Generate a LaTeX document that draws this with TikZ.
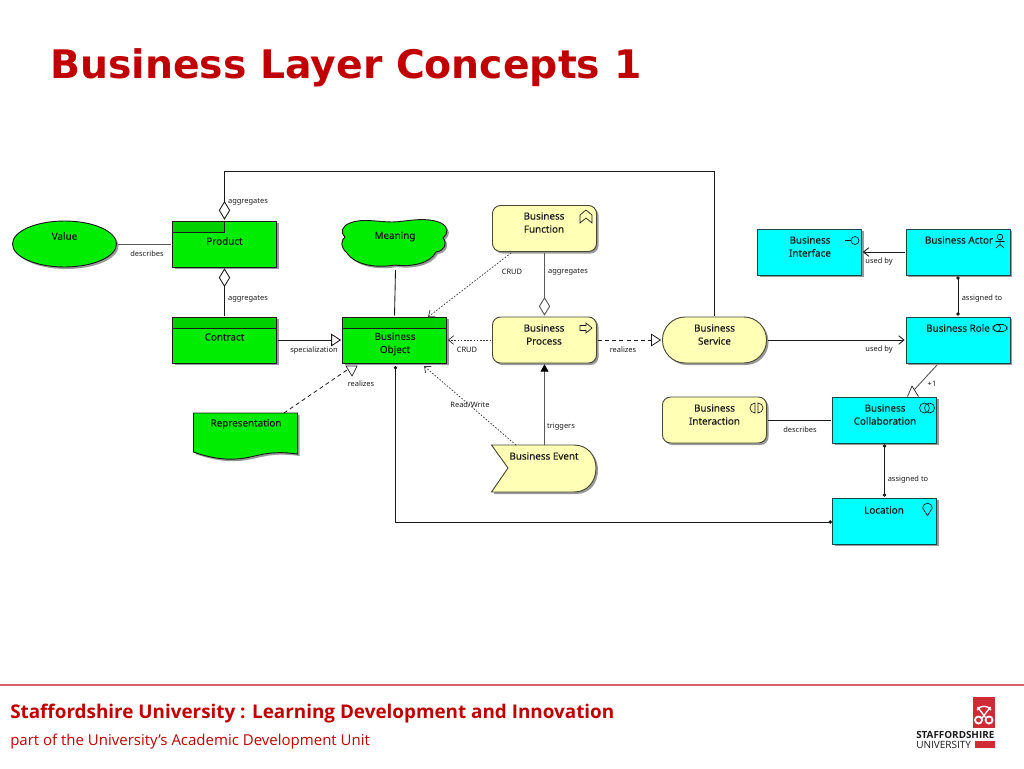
\documentclass[tikz,border=0pt]{standalone}
\usepackage{fontspec}
\setmainfont{Noto Sans}
\newfontfamily\titlefont{DejaVu Sans}
\newfontfamily\footfont{Open Sans}
\newfontfamily\boxfont[FakeBold=0.25]{Noto Sans}
\usepackage{xcolor}
\usetikzlibrary{arrows.meta,calc,positioning,shadows,shapes.geometric}
\definecolor{ink}{HTML}{1A1A1A}
\definecolor{passive}{HTML}{00EC00}
\definecolor{passivehead}{HTML}{00D000}
\definecolor{active}{HTML}{00FFFF}
\definecolor{behaviour}{HTML}{FFFFB5}
\definecolor{titlered}{HTML}{C00000}
\definecolor{rulered}{HTML}{D9606A}
\definecolor{logored}{HTML}{CE2B37}
\tikzset{
  boxshadow/.style={drop shadow={shadow xshift=1.5pt,shadow yshift=-1.5pt,fill=black,opacity=.4}},
  bizbox/.style={draw=ink,line width=.7pt,minimum width=78pt,minimum height=34.5pt,inner sep=0pt,outer sep=1pt,boxshadow},
  objbox/.style={bizbox,fill=passive},
  actbox/.style={bizbox,fill=active,draw=ink!80!active},
  behbox/.style={bizbox,fill=behaviour,draw=ink!80!behaviour,rounded corners=6pt},
  boxtext/.style={font=\boxfont\fontsize{7.4}{9.8}\selectfont,text=ink,align=center,inner sep=0pt},
  linktext/.style={font=\fontsize{5.6}{7}\selectfont,text=ink,inner sep=0pt},
  rel/.style={draw=ink,line width=.65pt},
  relgrey/.style={draw=ink!72,line width=.7pt},
  reldash/.style={draw=ink,line width=.6pt,dash pattern=on 3pt off 2.4pt},
  reldot/.style={draw=ink!85,line width=.55pt,dash pattern=on 1.2pt off 1.2pt},
  aggtip/.style={-{Diamond[open,fill=white,length=14pt,width=8.5pt]}},
  spectip/.style={-{Triangle[open,fill=white,length=7.5pt,width=9.5pt]}},
  opentip/.style={-{Straight Barb[length=4pt,width=6.5pt]}},
  dots/.style={{Circle[length=2.6pt]}-{Circle[length=2.6pt]}},
  icon/.style={draw=ink,line width=.5pt,fill=none},
}
\begin{document}
\begin{tikzpicture}[x=0.75pt,y=-0.75pt]
\useasboundingbox (0,0) rectangle (1024,768);
% heading
\node[anchor=west,inner sep=0pt,text=titlered,font=\titlefont\bfseries\fontsize{29.5}{36}\selectfont] (title) at (50,68) {Business Layer Concepts 1};
% passive structure, green
\node[bizbox,ellipse,fill=passive,minimum width=78pt] (value) at (64.5,244) {};
\node[boxtext] (valuetext) at (64.5,236) {Value};
\node[objbox] (product) at (224.5,244) {};
\fill[passivehead,draw=ink,line width=.6pt] (172.5,221) rectangle (224.5,232);
\node[boxtext] (producttext) at (224.5,241) {Product};
\node[objbox] (contract) at (224.5,340) {};
\fill[passivehead,draw=ink,line width=.6pt] (172.5,317) rectangle (276.5,328);
\node[boxtext] (contracttext) at (224.5,337) {Contract};
\node[objbox] (object) at (394.5,340) {};
\fill[passivehead,draw=ink,line width=.6pt] (342.5,317) rectangle (446.5,328);
\node[boxtext] (objecttext) at (395,344) {Business\\Object};
% the cloud and the document
\draw[fill=passive,draw=ink,line width=.7pt,boxshadow] (350,223) .. controls (362,218) and (378,222) .. (392,222) .. controls (405,222) and (425,216) .. (441,223) .. controls (449,227) and (448,234) .. (443,238) .. controls (448,244) and (444,251) .. (436,252) .. controls (430,264) and (410,267) .. (395,265) .. controls (378,268) and (356,266) .. (347,253) .. controls (340,247) and (341,240) .. (345,237) .. controls (340,232) and (342,226) .. (350,223) -- cycle;
\node[boxtext] (meaning) at (395,236.5) {Meaning};
\coordinate (meaningout) at (395.5,270);
\draw[fill=passive,draw=ink,line width=.7pt,boxshadow] (193.5,413) -- (297.5,413) -- (297.5,454) .. controls (270,450) and (258,456) .. (245,458) .. controls (228,461) and (210,458) .. (193.5,452) -- cycle;
\node[boxtext] (representation) at (246,424) {Representation};
\coordinate (reprout) at (284,413);
% behaviour, yellow
\node[behbox] (function) at (544.5,228.5) {};
\node[boxtext] (functiontext) at (544,222.5) {Business\\Function};
\node[behbox] (process) at (544.5,340) {};
\node[boxtext] (processtext) at (544,334.5) {Business\\Process};
\node[bizbox,fill=behaviour,draw=ink!80!behaviour,rounded corners=17pt] (service) at (714.5,340) {};
\node[boxtext] (servicetext) at (714.5,334.5) {Business\\Service};
\node[behbox] (interaction) at (714.5,420) {};
\node[boxtext] (interactiontext) at (714.5,414.5) {Business\\Interaction};
\draw[fill=behaviour,draw=ink!80!behaviour,line width=.7pt,boxshadow] (491.5,445) -- (574,445) .. controls (588,445) and (596,456) .. (596,468) .. controls (596,481) and (588,492) .. (574,492) -- (491.5,492) -- (508,468) -- cycle;
\node[boxtext] (event) at (544,456) {Business Event};
\coordinate (eventtop) at (544.5,445);
\coordinate (eventout) at (516,445);
% active structure, cyan
\node[actbox] (interface) at (809.5,252) {};
\node[boxtext] (interfacetext) at (810,246.5) {Business\\Interface};
\node[actbox] (actor) at (958,252) {};
\node[boxtext] (actortext) at (959,240) {Business Actor};
\node[actbox] (role) at (958,340) {};
\node[boxtext] (roletext) at (958,328) {Business Role};
\node[actbox] (collab) at (884.5,420) {};
\node[boxtext] (collabtext) at (885,414.5) {Business\\Collaboration};
\node[actbox] (location) at (884.5,521) {};
\node[boxtext] (locationtext) at (884,510) {Location};
% small icons
\draw[icon] (580,223) -- (580,215) -- (586,210) -- (592,215) -- (592,223) -- (586,218) -- cycle;
\draw[icon] (580,325.5) -- (586,325.5) -- (586,323) -- (592,328) -- (586,333) -- (586,330.5) -- (580,330.5) -- cycle;
\draw[icon] (845,240.5) -- (851,240.5) (855,240.5) circle[radius=4];
\draw[icon] (1000,237) circle[radius=2.8] (1000,240) -- (1000,244.5) (995.5,241.5) -- (1004.5,241.5) (996,248) -- (1000,244.5) -- (1004,248);
\draw[icon,rounded corners=3pt] (993,324.5) rectangle (1007,331.5);
\draw[icon] (997,328) circle[radius=3.5];
\draw[icon] (924.5,408) circle[radius=5] (929.5,408) circle[radius=5];
\draw[icon] (755,403) arc[start angle=270,end angle=90,radius=5] -- cycle (758,403) arc[start angle=270,end angle=450,radius=5] -- cycle;
\draw[icon] (927.5,515.7) -- (922.7,508) arc[start angle=180,end angle=360,radius=4.8] -- cycle;
% connectors
\coordinate (diamondfoot) at (224.5,171);
\coordinate (servicecorner) at (714.5,171);
\draw[rel,aggtip] (service.north) -- (servicecorner) -- (diamondfoot) -- (product.north);
\draw[relgrey] (value.east) -- (product.west);
\draw[rel,aggtip] (contract.north) -- (product.south);
\draw[rel,spectip] (contract.east) -- (object.west);
\coordinate (reprtip) at (347,370);
\draw[reldash] (reprout) -- (reprtip);
\draw[icon,fill=white] (346,366) -- (357,366) -- (352,376) -- cycle;
\draw[rel] (meaningout) -- (object.north);
\coordinate (fnout) at (511,253);
\coordinate (fntip) at (428,317);
\draw[reldot,opentip] (fnout) -- (fntip);
\draw[reldot,opentip] (process.west) -- (object.east);
\coordinate (eventtip) at (424,366);
\draw[reldot,opentip] (eventout) -- (eventtip);
\draw[relgrey,aggtip] (function.south) -- (process.north);
\draw[reldash,spectip] (process.east) -- (service.west);
\draw[relgrey,-{Triangle[length=5.5pt,width=6pt,color=black,fill=black]}] (eventtop) -- (process.south);
\coordinate (objectfoot) at (395.5,366);
\coordinate (locationcorner) at (395.5,522);
\coordinate (locationin) at (832,522);
\draw[rel,dots] (objectfoot) -- (locationcorner) -- (locationin);
\draw[rel,opentip] (service.east) -- (role.west);
\draw[rel,opentip] (actor.west) -- (interface.east);
\draw[rel,dots] (actor.south) -- (role.north);
\coordinate (roleout) at (937,365);
\coordinate (collabtip) at (914,390);
\draw[relgrey] (roleout) -- (collabtip);
\draw[icon,fill=white] (907.5,396.5) -- (912,386) -- (918.5,396.5);
\draw[rel] (interaction.east) -- (collab.west);
\draw[rel,dots] (collab.south) -- (location.north);
% link labels
\node[linktext] (lblagg) at (248,202) {aggregates};
\node[linktext] (lbldesc) at (147,254) {describes};
\node[linktext] (lblaggb) at (248,299) {aggregates};
\node[linktext] (lblspec) at (314,351) {specialization};
\node[linktext] (lblreal) at (361,384) {realizes};
\node[linktext] (lblcrud) at (512,272) {CRUD};
\node[linktext] (lblaggc) at (568,272) {aggregates};
\node[linktext] (lblcrudb) at (467,350) {CRUD};
\node[linktext] (lblrealb) at (623,350) {realizes};
\node[linktext] (lblrw) at (470,405) {Read/Write};
\node[linktext] (lbltrig) at (561,427) {triggers};
\node[linktext] (lblused) at (879,262) {used by};
\node[linktext] (lblassign) at (982,299) {assigned to};
\node[linktext] (lblusedb) at (879,350) {used by};
\node[linktext] (lblplus) at (932,384) {+1};
\node[linktext] (lbldescb) at (800,430) {describes};
\node[linktext] (lblassignb) at (908,480) {assigned to};
% footer
\draw[rulered,line width=.8pt] (0,685) -- (1024,685);
\node[anchor=west,inner sep=0pt,text=titlered,font=\footfont\bfseries\fontsize{14.15}{17}\selectfont] (foota) at (10,714) {Staffordshire University : Learning Development and Innovation};
\node[anchor=west,inner sep=0pt,text=titlered,font=\footfont\fontsize{11.25}{14}\selectfont] (footb) at (10,742) {part of the University’s Academic Development Unit};
% crest
\fill[logored] (973,697) rectangle (994.5,728);
\draw[white,line width=1pt] (977,710) .. controls (980,705) and (988,705) .. (991,710) (977.5,707) -- (989,722) (990.5,707) -- (979,722);
\fill[white] (978.5,720) circle[radius=4.5] (989,720) circle[radius=4.5];
\fill[logored] (978.5,720) circle[radius=2.4] (989,720) circle[radius=2.4];
\node[anchor=west,inner sep=0pt,text=ink,font=\footfont\bfseries\fontsize{7.4}{8}\selectfont] (logoa) at (916,735) {STAFFORDSHIRE};
\node[anchor=west,inner sep=0pt,text=ink,font=\footfont\fontsize{7.5}{8}\selectfont] (logob) at (916,744.5) {UNIVERSITY};
\fill[logored] (975,741) rectangle (995,748);
\end{tikzpicture}
\end{document}
